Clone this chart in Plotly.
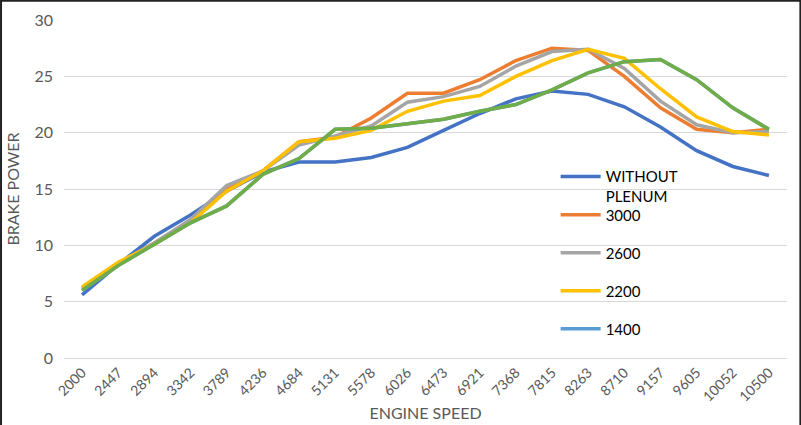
import plotly.graph_objects as go

speeds = ["2000", "2447", "2894", "3342", "3789", "4236", "4684", "5131", "5578", "6026",
          "6473", "6921", "7368", "7815", "8263", "8710", "9157", "9605", "10052", "10500"]

without_plenum = [5.6, 8.3, 10.8, 12.7, 14.8, 16.5, 17.4, 17.4, 17.8, 18.7,
                  20.2, 21.7, 23.0, 23.7, 23.4, 22.3, 20.5, 18.4, 17.0, 16.2]
p3000 = [6.2, 8.4, 10.2, 12.2, 15.0, 16.6, 19.2, 19.6, 21.3, 23.5,
         23.5, 24.7, 26.4, 27.5, 27.3, 25.0, 22.2, 20.3, 20.0, 20.3]
p2600 = [6.1, 8.4, 10.2, 12.3, 15.3, 16.6, 18.9, 19.7, 20.6, 22.7,
         23.2, 24.1, 25.9, 27.2, 27.4, 25.7, 22.8, 20.7, 20.0, 20.1]
p2200 = [6.3, 8.5, 10.1, 12.0, 14.8, 16.6, 19.2, 19.5, 20.2, 21.9,
         22.8, 23.3, 25.0, 26.4, 27.4, 26.6, 23.9, 21.4, 20.1, 19.8]
p1400 = [6.0, 8.2, 10.1, 12.0, 13.5, 16.3, 17.7, 20.3, 20.4, 20.8,
         21.2, 21.9, 22.5, 23.8, 25.3, 26.3, 26.5, 24.7, 22.2, 20.3]
green_series = [6.0, 8.2, 10.1, 12.0, 13.5, 16.3, 17.7, 20.3, 20.4, 20.8,
                21.2, 21.9, 22.5, 23.8, 25.3, 26.3, 26.5, 24.7, 22.2, 20.3]

series = [
    ("WITHOUT<br>PLENUM", without_plenum, "#4472C4", True, "legend"),
    ("3000", p3000, "#ED7D31", True, "legend2"),
    ("2600", p2600, "#A5A5A5", True, "legend2"),
    ("2200", p2200, "#FFC000", True, "legend2"),
    ("1400", p1400, "#5B9BD5", True, "legend2"),
    ("", green_series, "#70AD47", False, "legend2"),
]

fig = go.Figure()
for i, (name, vals, color, show, leg) in enumerate(series):
    fig.add_trace(go.Scatter(
        x=speeds, y=vals, mode="lines", name=name,
        line=dict(color=color, width=3.5),
        showlegend=show, legendgroup=f"g{i}", legend=leg,
    ))

grey = "#595959"
legfont = dict(family="Lato, sans-serif", size=15, color="black")
fig.update_layout(
    width=801, height=425,
    margin=dict(l=64, r=14, t=20, b=67),
    paper_bgcolor="white", plot_bgcolor="white",
    font=dict(family="Lato, Open Sans, sans-serif", color=grey),
    legend=dict(
        x=0.68, y=0.585, xanchor="left", yanchor="top",
        font=legfont, bgcolor="rgba(0,0,0,0)", valign="top",
        itemwidth=40,
    ),
    legend2=dict(
        x=0.68, y=0.472, xanchor="left", yanchor="top",
        font=legfont, bgcolor="rgba(0,0,0,0)", valign="middle",
        tracegroupgap=15.5, itemwidth=40,
    ),
    xaxis=dict(
        type="category", range=[-0.5, 19.5], automargin=False,
        tickangle=-45, tickfont=dict(size=14, color=grey),
        showgrid=False, showline=True, linecolor="#D9D9D9", linewidth=1,
        ticks="",
        title=dict(text="ENGINE SPEED", font=dict(size=16, color=grey), standoff=4),
    ),
    yaxis=dict(
        range=[0, 30], dtick=5, tickfont=dict(size=16, color=grey), automargin=False,
        showgrid=True, gridcolor="#D9D9D9", gridwidth=1, zeroline=False,
        ticks="", ticklabelstandoff=10,
        title=dict(text="BRAKE POWER", font=dict(size=16, color=grey), standoff=10),
    ),
    shapes=[
        dict(type="line", xref="paper", yref="paper", x0=-0.09, x1=1.02, y0=1.057, y1=1.057,
             line=dict(color="#222222", width=2)),
        dict(type="line", xref="paper", yref="paper", x0=-0.0871, x1=-0.0871, y0=-0.2, y1=1.06,
             line=dict(color="#222222", width=2)),
        dict(type="line", xref="paper", yref="paper", x0=1.0185, x1=1.0185, y0=-0.2, y1=1.06,
             line=dict(color="#222222", width=2)),
    ],
)

fig.write_html("out.html")
